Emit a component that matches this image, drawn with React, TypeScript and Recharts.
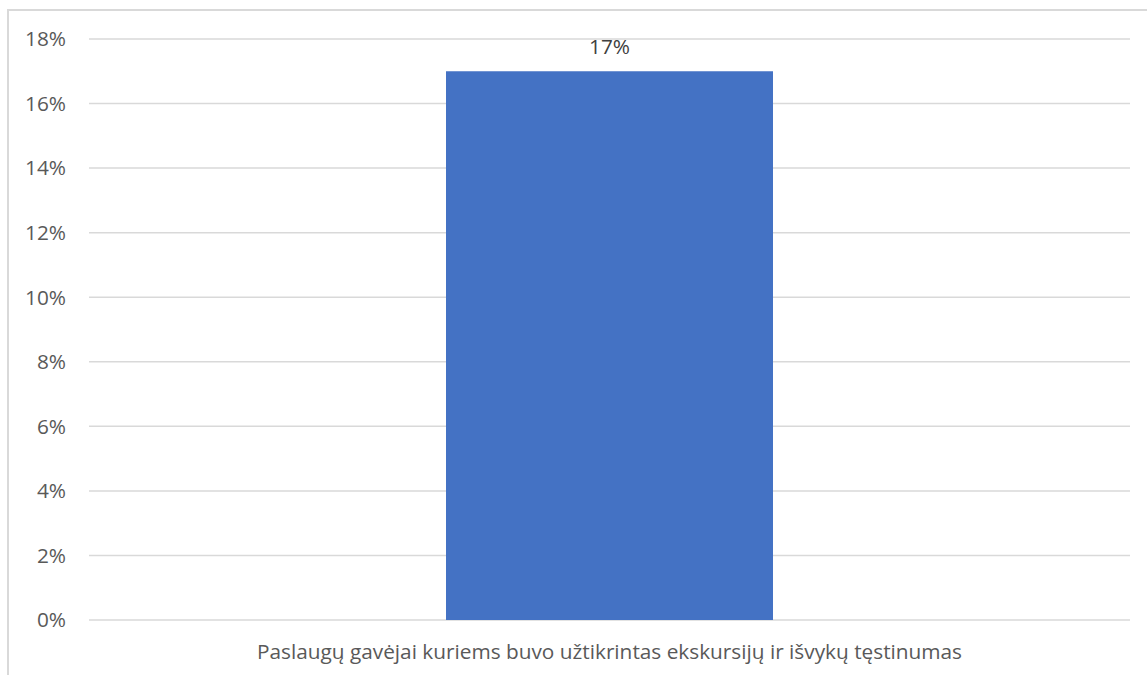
import React from 'react';
import { BarChart, Bar, XAxis, YAxis, CartesianGrid, LabelList } from 'recharts';

const categories = ['Paslaugų gavėjai kuriems buvo užtikrintas ekskursijų ir išvykų tęstinumas'];
const shares = [0.17];
const yTicks = [0, 0.02, 0.04, 0.06, 0.08, 0.1, 0.12, 0.14, 0.16, 0.18];

const data = categories.map((name, i) => ({ name, share: shares[i] }));

const pct = (v: number) => `${Math.round(v * 100)}%`;

const font = '"Open Sans", "Liberation Sans", Arial, sans-serif';
const fontSize = 20.8;

export default function App() {
  return (
    <div style={{ position: 'absolute', left: 0, top: 0, width: 1147, height: 675, overflow: 'hidden', background: '#fff' }}>
      <div
        style={{
          position: 'absolute',
          left: 7,
          top: 9,
          width: 1160,
          height: 700,
          border: '2px solid #d9d9d9',
        }}
      />
      <div style={{ position: 'absolute', left: 0, top: 0 }}>
        <BarChart
          width={1147}
          height={675}
          data={data}
          margin={{ top: 39, right: 17, bottom: 0, left: 29 }}
          style={{ fontFamily: font }}
        >
          <CartesianGrid vertical={false} stroke="#d9d9d9" strokeWidth={1.5} />
          <XAxis
            dataKey="name"
            axisLine={false}
            tickLine={false}
            tickSize={0}
            tickMargin={24}
            height={55}
            tick={{ fill: '#595959', fontSize, fontFamily: font }}
          />
          <YAxis
            domain={[0, 0.18]}
            ticks={yTicks}
            tickFormatter={pct}
            axisLine={false}
            tickLine={false}
            tickSize={0}
            tickMargin={23}
            width={60}
            tick={{ fill: '#595959', fontSize, fontFamily: font }}
          />
          <Bar dataKey="share" fill="#4472c4" barSize={327} isAnimationActive={false}>
            <LabelList
              dataKey="share"
              position="top"
              offset={17}
              formatter={pct}
              fill="#404040"
              fontSize={fontSize}
              fontFamily={font}
            />
          </Bar>
        </BarChart>
      </div>
    </div>
  );
}
